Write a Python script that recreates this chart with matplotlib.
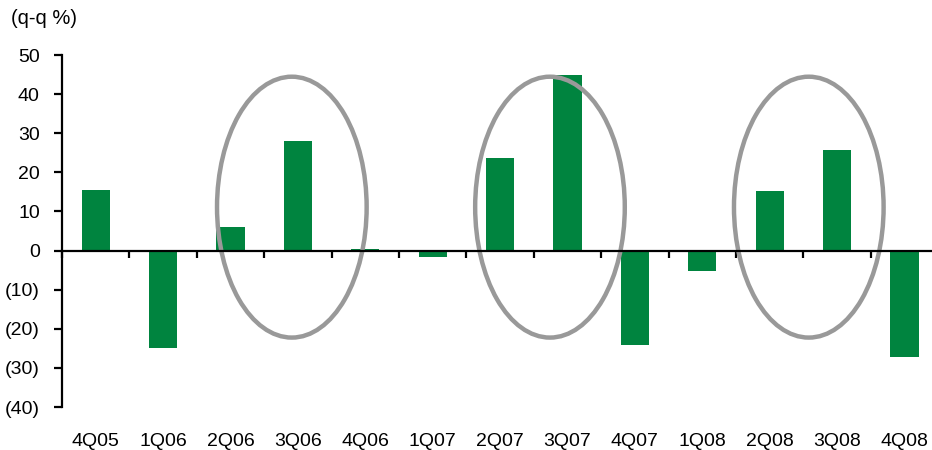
import matplotlib.pyplot as plt
from matplotlib.patches import Ellipse
import numpy as np

plt.rcParams['font.family'] = ['Liberation Sans', 'DejaVu Sans']

# quarter-on-quarter change, %
quarters = ['4Q05', '1Q06', '2Q06', '3Q06', '4Q06', '1Q07', '2Q07',
            '3Q07', '4Q07', '1Q08', '2Q08', '3Q08', '4Q08']
qq_change = [15.5, -25.0, 6.0, 28.0, 0.3, -1.6, 23.6,
             45.0, -24.1, -5.3, 15.2, 25.7, -27.1]

yticks = [50, 40, 30, 20, 10, 0, -10, -20, -30, -40]
ytick_labels = ['50', '40', '30', '20', '10', '0', '(10)', '(20)', '(30)', '(40)']

# highlight rings: (x centre, y centre) in data units
rings = [(2.91, 11.1), (6.74, 11.1), (10.58, 11.1)]
ring_w, ring_h = 2.22, 66.7

green = '#00843f'
fs = 14

fig = plt.figure(figsize=(9.32, 4.5), dpi=100)
ax = fig.add_axes([62 / 932, 43 / 450, 876.2 / 932, 352 / 450])

x = np.arange(len(quarters))
ax.bar(x, qq_change, width=0.42, color=green, zorder=2)

for cx, cy in rings:
    ax.add_patch(Ellipse((cx, cy), ring_w, ring_h, fill=False,
                         edgecolor='#999999', lw=3.2, zorder=3, clip_on=False))

ax.set_xlim(-0.5, len(quarters) - 0.5)
ax.set_ylim(-40, 50)

# axis lines
for s in ['top', 'right']:
    ax.spines[s].set_visible(False)
ax.spines['bottom'].set_position(('data', 0))
ax.spines['bottom'].set_linewidth(1.6)
ax.spines['left'].set_linewidth(1.6)
ax.spines['bottom'].set_zorder(4)

ax.set_yticks(yticks)
ax.set_yticklabels(ytick_labels, fontsize=fs)
ax.tick_params(axis='y', direction='out', length=6, width=1.6, pad=10)

ax.set_xticks(np.arange(len(quarters) + 1) - 0.5)
ax.set_xticklabels([])
ax.tick_params(axis='x', direction='out', length=5, width=1.6)

# category labels sit under the plot, not on the zero line
for i, q in enumerate(quarters):
    ax.text(i, -48.7, q, ha='center', va='center', fontsize=fs, clip_on=False)

fig.text(11 / 932, 1 - 18 / 450, '(q-q %)', ha='left', va='center', fontsize=fs + 0.5)

fig.savefig('out.png', dpi=100)
